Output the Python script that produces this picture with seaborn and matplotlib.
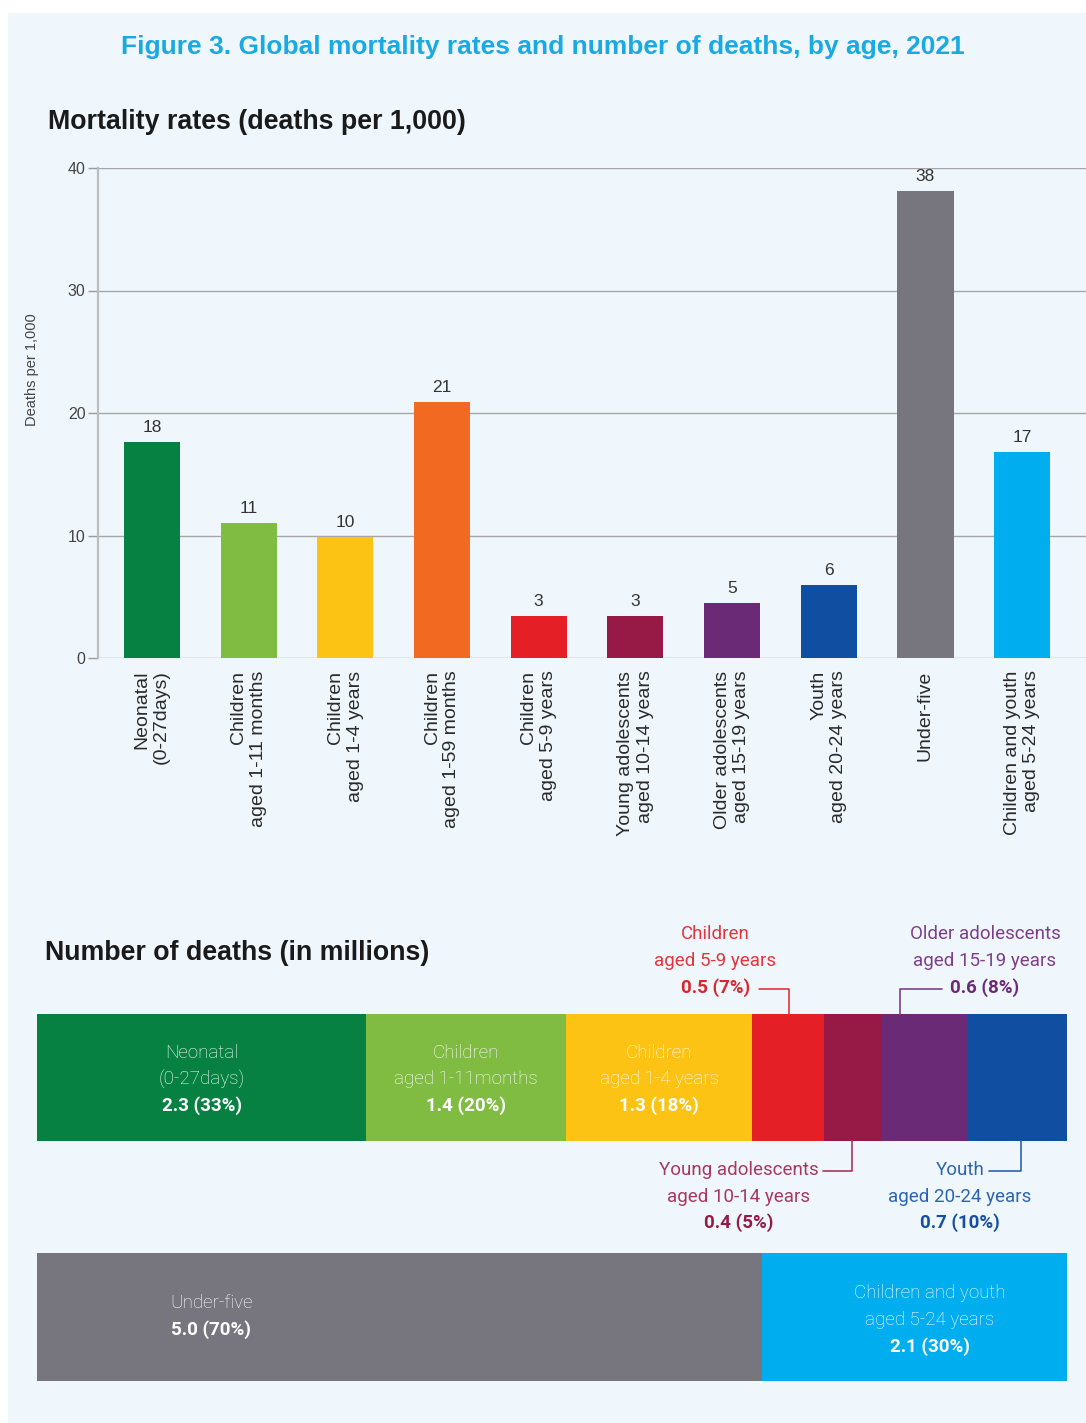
import matplotlib
matplotlib.use("Agg")
import matplotlib.pyplot as plt
import seaborn as sns
import pandas as pd
import numpy as np
from matplotlib.patches import Rectangle
from matplotlib.lines import Line2D

# ---- data -------------------------------------------------------------
rate_groups = [
    "Neonatal\n(0-27days)",
    "Children\naged 1-11 months",
    "Children\naged 1-4 years",
    "Children\naged 1-59 months",
    "Children\naged 5-9 years",
    "Young adolescents\naged 10-14 years",
    "Older adolescents\naged 15-19 years",
    "Youth\naged 20-24 years",
    "Under-five",
    "Children and youth\naged 5-24 years",
]
rate_values = [17.6, 11.0, 9.9, 20.9, 3.4, 3.4, 4.5, 6.0, 38.1, 16.8]
rate_colors = ["#078142", "#80BC41", "#FCC314", "#F26A21", "#E41F26",
               "#961A45", "#6A2A75", "#0F4EA0", "#77767F", "#00AEEF"]
rate_ticks = [0, 10, 20, 30, 40]

age_groups = [
    "Neonatal\n(0-27days)",
    "Children\naged 1-11months",
    "Children\naged 1-4 years",
    "Children\naged 5-9 years",
    "Young adolescents\naged 10-14 years",
    "Older adolescents\naged 15-19 years",
    "Youth\naged 20-24 years",
]
age_deaths = [2.3, 1.4, 1.3, 0.5, 0.4, 0.6, 0.7]
age_shares = [33, 20, 18, 7, 5, 8, 10]
age_colors = ["#078142", "#80BC41", "#FCC314", "#E41F26",
              "#961A45", "#6A2A75", "#0F4EA0"]

broad_groups = ["Under-five", "Children and youth\naged 5-24 years"]
broad_deaths = [5.0, 2.1]
broad_shares = [70, 30]
broad_colors = ["#77767F", "#00AEEF"]

# ---- styling ----------------------------------------------------------
W, H = 1086, 1423
BG = "#EFF7FD"
sns.set_theme(style="white")
plt.rcParams["font.family"] = ["Liberation Sans", "DejaVu Sans"]

fig = plt.figure(figsize=(W / 100, H / 100), dpi=100, facecolor="white")
fig.patches.append(Rectangle((8 / W, 0), (W - 8) / W, (H - 13) / H,
                             transform=fig.transFigure, facecolor=BG,
                             edgecolor="none", zorder=-10))


def fx(px):
    return px / W


def fy(py):
    return 1 - py / H


fig.text(fx(543), fy(47),
         "Figure 3. Global mortality rates and number of deaths, by age, 2021",
         ha="center", va="center", fontsize=19, weight="bold", color="#1BA9E1")
fig.text(fx(48), fy(122), "Mortality rates (deaths per 1,000)",
         ha="left", va="center", fontsize=19.3, weight="bold", color="#1A1A1A")
fig.text(fx(45), fy(953), "Number of deaths (in millions)",
         ha="left", va="center", fontsize=19.3, weight="bold", color="#1A1A1A")

# ---- mortality rate columns ------------------------------------------
ax1 = fig.add_axes([fx(98), fy(658), fx(1086) - fx(98), (658 - 168) / H])
ax1.set_facecolor("none")
df_rates = pd.DataFrame({"group": rate_groups, "rate": rate_values})
sns.barplot(data=df_rates, x="group", y="rate", hue="group",
            palette=rate_colors, legend=False, width=0.58, saturation=1,
            ax=ax1, zorder=3, edgecolor="none", linewidth=0)
ax1.set_ylim(0, 40)
ax1.set_xlim(-0.557, 9.66)
ax1.set_yticks(rate_ticks)
ax1.set_xticks(range(len(rate_groups)))
ax1.set_xticklabels(rate_groups, rotation=90, ha="center", va="top",
                    multialignment="right", fontsize=14, color="#2A2A2A")
ax1.tick_params(axis="x", length=0, pad=9)
ax1.tick_params(axis="y", length=7, width=1, color="#9A9A9A",
                labelsize=11.5, labelcolor="#444444", pad=2, left=True)
ax1.set_xlabel("")
ax1.set_ylabel("")
ax1.yaxis.grid(True, color="#A6A6A6", linewidth=1)
ax1.set_axisbelow(True)
for side in ["top", "right", "bottom"]:
    ax1.spines[side].set_visible(False)
ax1.spines["left"].set_color("#BDBDBD")
ax1.spines["left"].set_linewidth(1.6)
for i, v in enumerate(rate_values):
    ax1.annotate(f"{int(v + 0.5)}", (i, v), xytext=(0, 5),
                 textcoords="offset points", ha="center", va="bottom",
                 fontsize=12.5, color="#333333")
fig.text(fx(32), fy(370), "Deaths per 1,000", rotation=90, ha="center",
         va="center", fontsize=10.5, color="#444444")

# ---- number of deaths: stacked rows ----------------------------------
ax2 = fig.add_axes([fx(37), fy(1141), 1030 / W, (1141 - 1014) / H])
ax3 = fig.add_axes([fx(37), fy(1381), 1030 / W, (1381 - 1253) / H])

rows = []
for ax, vals, cols in [(ax2, age_deaths, age_colors),
                       (ax3, broad_deaths, broad_colors)]:
    lefts = np.concatenate([[0], np.cumsum(vals)[:-1]])
    ax.barh(0, vals, left=lefts, height=1, color=cols, edgecolor="none",
            linewidth=0)
    ax.set_xlim(0, sum(vals))
    ax.set_ylim(-0.5, 0.5)
    ax.axis("off")
    rows.append(lefts)

fig.canvas.draw()
renderer = fig.canvas.get_renderer()

SEG_FONT = ["Roboto", "DejaVu Sans"]


def seg_x(ax, left, width, frac):
    return ax.transData.transform((left + frac * width, 0))[0]


def ax_rows(ax):
    bb = ax.get_window_extent()
    return H - bb.y1, H - bb.y0


def stacked_text(x, y_lines, lines, color, bold_color, weight="light"):
    arts = []
    for k, (yy, txt) in enumerate(zip(y_lines, lines)):
        last = k == len(lines) - 1
        arts.append(fig.text(fx(x), fy(yy), txt, ha="center", va="center",
                             fontsize=13.5, family=SEG_FONT,
                             weight="bold" if last else weight,
                             color=bold_color if last else color))
    return arts


# labels inside the first three segments
top2, bot2 = ax_rows(ax2)
mid2 = (top2 + bot2) / 2 + 2
lefts2 = rows[0]
for i in range(3):
    cx = seg_x(ax2, lefts2[i], age_deaths[i], 0.5)
    lines = age_groups[i].split("\n") + [f"{age_deaths[i]:.1f} ({age_shares[i]}%)"]
    stacked_text(cx, [mid2 - 26, mid2, mid2 + 26], lines, "white", "white")

# callouts for the narrow segments
callouts = [
    # index, side, anchor fraction, text offset, text colour, value colour
    (3, "above", 0.52, -74, "#E4343D", "#D9262E"),
    (5, "above", 0.22, 85, "#7D3F8C", "#6A2A75"),
    (4, "below", 0.50, -114, "#A8385F", "#961A45"),
    (6, "below", 0.54, -61, "#2D64B2", "#154FA0"),
]
fig.canvas.draw()
for idx, side, frac, dx, col, vcol in callouts:
    ax_x = seg_x(ax2, lefts2[idx], age_deaths[idx], frac)
    lines = age_groups[idx].split("\n") + [f"{age_deaths[idx]:.1f} ({age_shares[idx]}%)"]
    tx = ax_x + dx
    if side == "above":
        ys = [top2 - 80, top2 - 53, top2 - 26]
    else:
        ys = [bot2 + 29, bot2 + 56, bot2 + 82]
    arts = stacked_text(tx, ys, lines, col, vcol, weight="normal")
    ref = arts[-1] if side == "above" else arts[0]
    bb = ref.get_window_extent(renderer)
    y_line = ys[-1] + 1 if side == "above" else ys[0] + 1
    if tx < ax_x:
        x_start = bb.x1 + (9 if side == "above" else 5)
    else:
        x_start = bb.x0 - 8
    y_end = top2 if side == "above" else bot2
    fig.add_artist(Line2D([fx(x_start), fx(ax_x), fx(ax_x)],
                          [fy(y_line), fy(y_line), fy(y_end)],
                          transform=fig.transFigure, color=col,
                          linewidth=1.2))

# broad age groups row
top3, bot3 = ax_rows(ax3)
mid3 = (top3 + bot3) / 2
lefts3 = rows[1]
broad_frac = [0.24, 0.55]
for i in range(2):
    cx = seg_x(ax3, lefts3[i], broad_deaths[i], broad_frac[i])
    lines = broad_groups[i].split("\n") + [f"{broad_deaths[i]:.1f} ({broad_shares[i]}%)"]
    n = len(lines)
    ys = [mid3 + 3 + (k - (n - 1) / 2) * 26.5 for k in range(n)]
    if n == 2:
        ys = [y - 4 for y in ys]
    stacked_text(cx, ys, lines, "white", "white")

fig.savefig("out.png", dpi=100, facecolor="white")
